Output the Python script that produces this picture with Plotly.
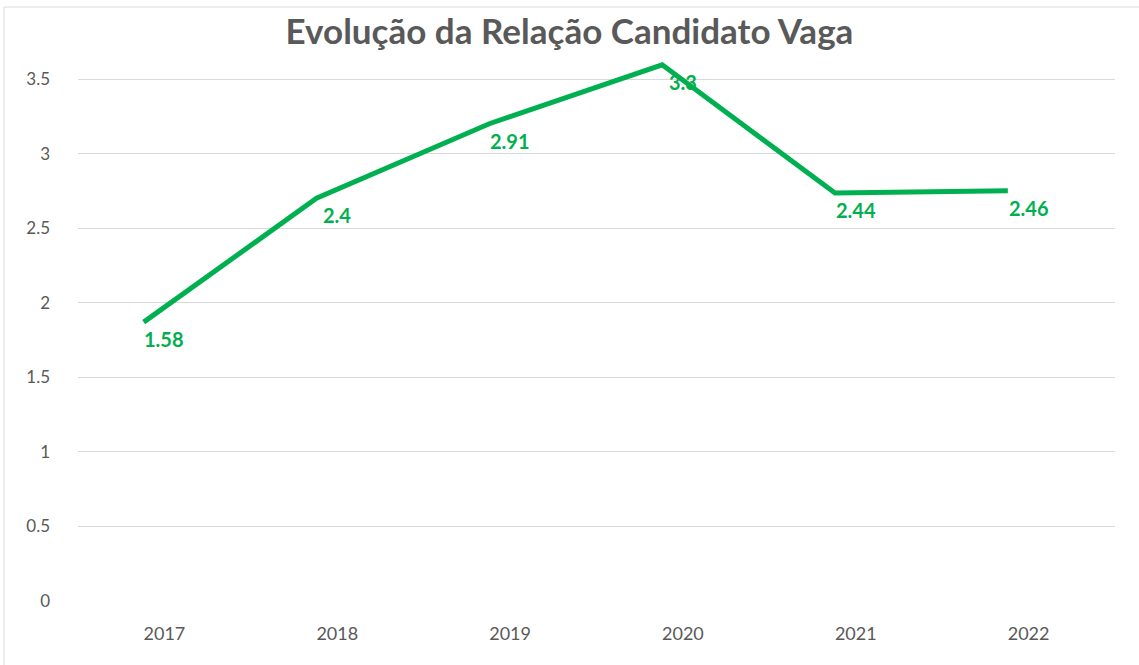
import plotly.graph_objects as go

years = ["2017", "2018", "2019", "2020", "2021", "2022"]
line_values = [1.87, 2.70, 3.20, 3.595, 2.735, 2.75]
label_texts = ["1.58", "2.4", "2.91", "3.3", "2.44", "2.46"]
y_ticks = [0, 0.5, 1, 1.5, 2, 2.5, 3, 3.5]
y_tick_text = ["0", "0.5", "1", "1.5", "2", "2.5", "3", "3.5"]

GREEN = "#00B050"
GRAY = "#595959"
idx = list(range(len(years)))
line_x = [i - 0.12 for i in idx]

fig = go.Figure()
fig.add_trace(go.Scatter(x=line_x, y=line_values, mode="lines",
                         line=dict(color=GREEN, width=5), hoverinfo="skip",
                         showlegend=False))

annotations = [
    dict(x=xi, y=yi, text=t, xref="x", yref="y", showarrow=False,
         xanchor="center", yanchor="middle", yshift=-17,
         font=dict(color=GREEN, size=20, family="Lato", weight="bold"))
    for xi, yi, t in zip(idx, line_values, label_texts)
]

# plot area top chosen so that 3.5 sits where the reference gridline is
top_px, bottom_px, px_per_unit = 49, 601, (601 - 79) / 3.5
y_top = (bottom_px - top_px) / px_per_unit

fig.update_layout(
    width=1139, height=665,
    paper_bgcolor="white", plot_bgcolor="white",
    margin=dict(l=78, r=24, t=top_px, b=665 - bottom_px),
    title=dict(text="Evolução da Relação Candidato Vaga", x=0.5, xanchor="center",
               y=1 - 32 / 665, yanchor="middle",
               font=dict(family="Lato", size=35, color=GRAY, weight="bold")),
    xaxis=dict(range=[-0.5, 5.5], tickmode="array", tickvals=idx, ticktext=years,
               showgrid=False, zeroline=False, showline=False, ticks="",
               ticklabelstandoff=20,
               tickfont=dict(family="Lato", size=18, color=GRAY)),
    yaxis=dict(range=[0, y_top], tickmode="array", tickvals=y_ticks, ticktext=y_tick_text,
               showgrid=True, gridcolor="#d9d9d9", gridwidth=1, zeroline=False,
               showline=False, ticks="", ticklabelstandoff=27,
               tickfont=dict(family="Lato", size=17, color=GRAY)),
    annotations=annotations,
    shapes=[dict(type="rect", xref="paper", yref="paper",
                 x0=(4 - 78) / 1037, x1=(1145 - 78) / 1037,
                 y0=(bottom_px - 670) / (bottom_px - top_px),
                 y1=(bottom_px - 7) / (bottom_px - top_px),
                 line=dict(color="#d9d9d9", width=1), layer="below")],
)

fig.write_html("out.html", config={"displayModeBar": False},
               post_script="document.body.style.margin='0';")
